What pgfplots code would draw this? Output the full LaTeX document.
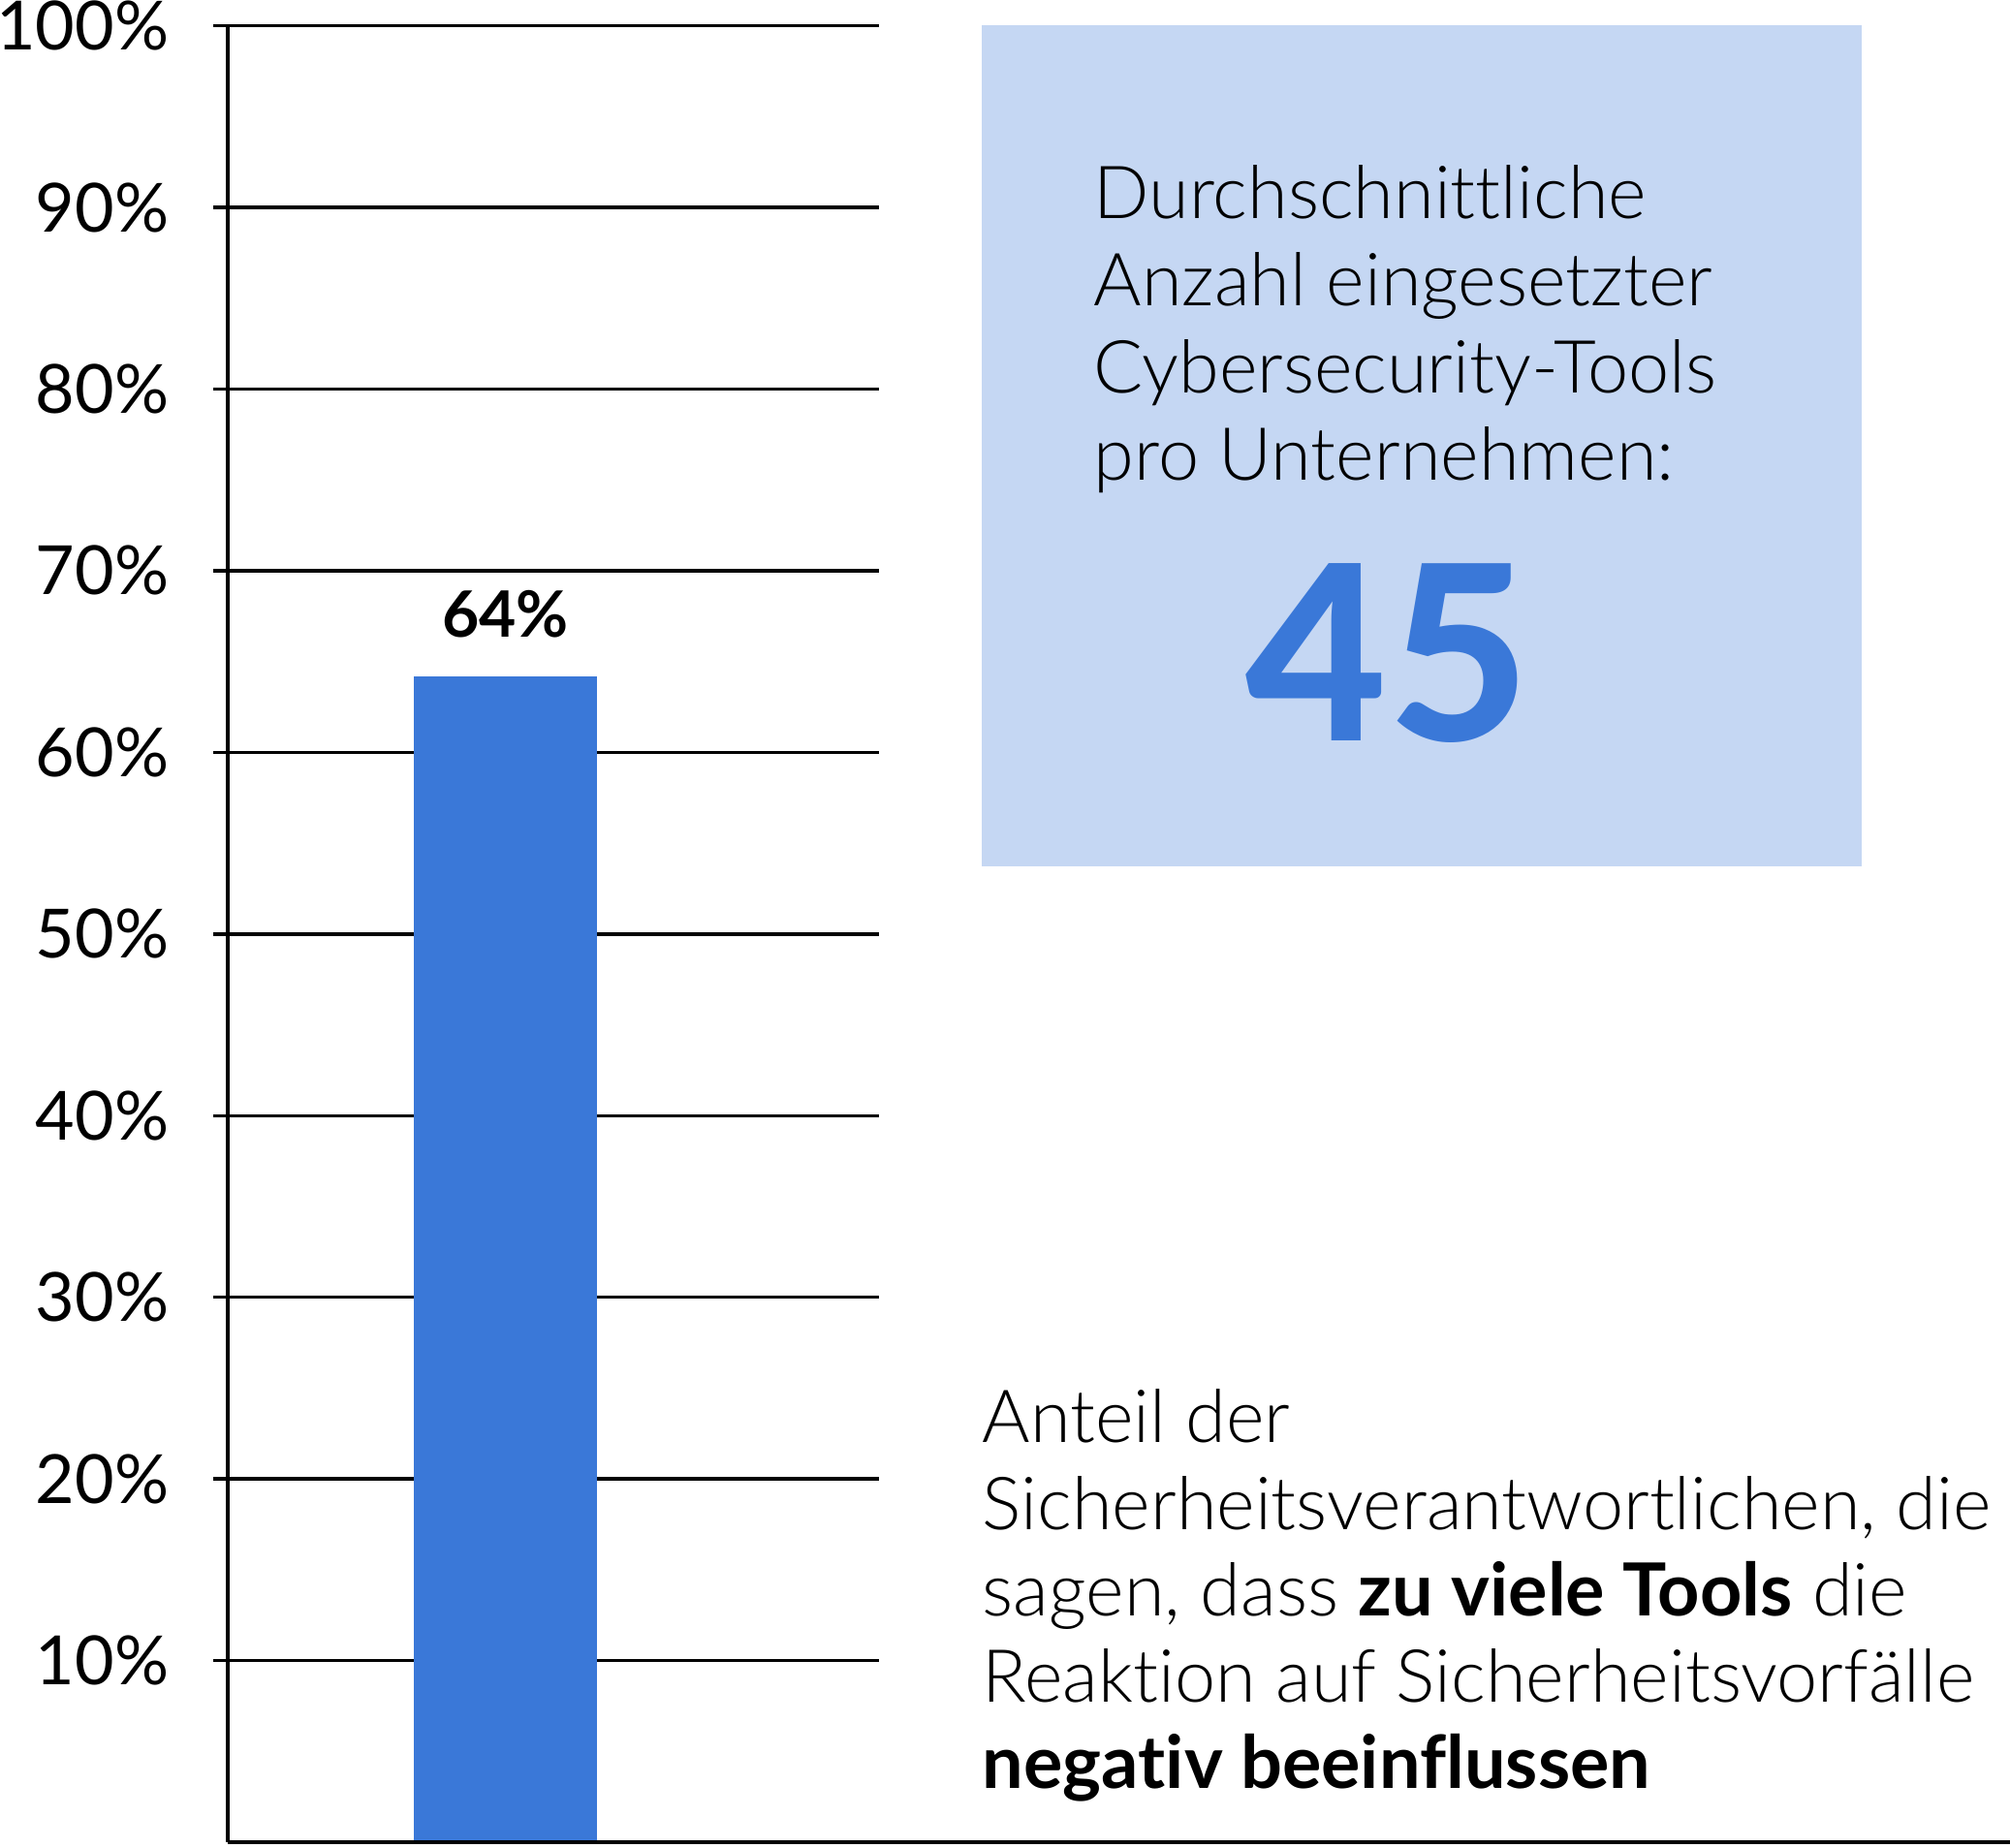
\documentclass[border=0pt]{standalone}
\usepackage{fontspec}
\usepackage{pgfplots}
\pgfplotsset{compat=1.18}

% Roboto-like look: Lato family if present, else Liberation Sans
\IfFontExistsTF{Lato Light}{\newfontfamily\lightfont{Lato Light}[Ligatures=NoCommon]}{\newfontfamily\lightfont{Liberation Sans}}
\IfFontExistsTF{Lato Bold}{\newfontfamily\boldfont{Lato Bold}[Ligatures=NoCommon]}{\newfontfamily\boldfont{Liberation Sans Bold}}
\IfFontExistsTF{Lato Heavy}{\newfontfamily\heavyfont{Lato Heavy}}{\newfontfamily\heavyfont{Liberation Sans Bold}}
\IfFontExistsTF{Lato}{\setmainfont{Lato}}{\setmainfont{Liberation Sans}}

\definecolor{barblue}{HTML}{3A78D8}
\definecolor{boxblue}{HTML}{C5D7F3}

% 1 px of the reference = 0.25pt
\newcommand{\txt}{\lightfont\fontsize{18.9}{22.5}\selectfont}

\begin{document}
\begin{tikzpicture}
\useasboundingbox (0,0) rectangle (518.5pt,-476.5pt);

% info box
\fill[boxblue] (253.25pt,-6.6pt) rectangle (480.25pt,-223.5pt);
\node[anchor=base west, inner sep=0pt] at (282pt,-56.25pt) {\txt Durchschnittliche};
\node[anchor=base west, inner sep=0pt] at (282pt,-78.75pt) {\txt Anzahl eingesetzter};
\node[anchor=base west, inner sep=0pt] at (282pt,-101.25pt) {\txt Cybersecurity-Tools};
\node[anchor=base west, inner sep=0pt] at (282pt,-123.75pt) {\txt pro Unternehmen:};
\node[anchor=base, inner sep=0pt, text=barblue] at (358pt,-191.1pt) {\heavyfont\fontsize{63}{70}\selectfont 45};

% caption
\node[anchor=base west, inner sep=0pt] at (253.25pt,-372pt) {\txt Anteil der};
\node[anchor=base west, inner sep=0pt] at (253.25pt,-394.5pt) {\txt Sicherheitsverantwortlichen, die};
\node[anchor=base west, inner sep=0pt] at (253.25pt,-416.75pt) {\txt sagen, dass {\boldfont zu viele Tools} die};
\node[anchor=base west, inner sep=0pt] at (253.25pt,-439pt) {\txt Reaktion auf Sicherheitsvorfälle};
\node[anchor=base west, inner sep=0pt] at (253.25pt,-461.3pt) {\txt\boldfont negativ beeinflussen};

\begin{axis}[
    at={(58.75pt,-475.25pt)}, anchor=south west,
    scale only axis, width=168pt, height=468.6pt,
    xmin=0, xmax=1, ymin=0, ymax=100,
    axis x line=none, axis y line=left,
    axis line style={-, line width=0.85pt},
    xtick=\empty,
    ytick={10,20,30,40,50,60,70,80,90,100},
    yticklabels={10\%,20\%,30\%,40\%,50\%,60\%,70\%,80\%,90\%,100\%},
    yticklabel style={font=\fontsize{17.5}{20}\selectfont, anchor=east, inner sep=0pt, xshift=-11.25pt},
    ymajorgrids, grid style={black, line width=0.85pt},
    tick align=outside, major tick length=3.75pt,
    ytick style={black, line width=0.85pt},
    clip=false,
]
\addplot[ybar, bar width=47.25pt, fill=barblue, draw=none,
    point meta=explicit symbolic, nodes near coords,
    nodes near coords style={anchor=base, inner sep=0pt, yshift=10pt,
        font=\boldfont\fontsize{16.5}{19}\selectfont}]
    coordinates {(0.4263,64.2) [64\%]};
\end{axis}

% x axis line runs under the caption to the right edge
\draw[line width=0.85pt] (58.75pt,-475.25pt) -- (518.5pt,-475.25pt);
\end{tikzpicture}
\end{document}
